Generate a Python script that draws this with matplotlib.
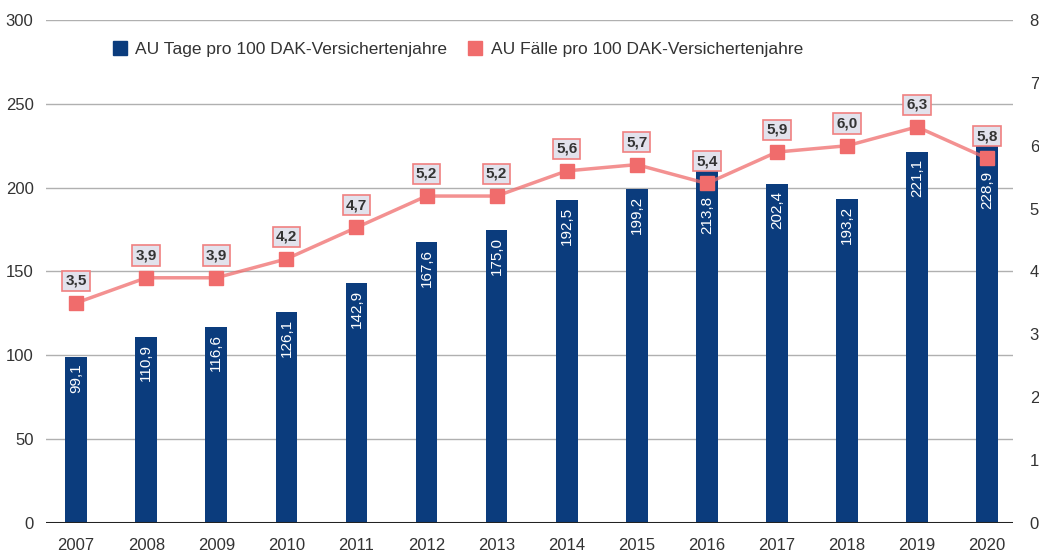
import matplotlib.pyplot as plt

years = ['2007', '2008', '2009', '2010', '2011', '2012', '2013',
         '2014', '2015', '2016', '2017', '2018', '2019', '2020']
au_tage = [99.1, 110.9, 116.6, 126.1, 142.9, 167.6, 175.0,
           192.5, 199.2, 213.8, 202.4, 193.2, 221.1, 228.9]
au_faelle = [3.5, 3.9, 3.9, 4.2, 4.7, 5.2, 5.2,
             5.6, 5.7, 5.4, 5.9, 6.0, 6.3, 5.8]

label_tage = 'AU Tage pro 100 DAK-Versichertenjahre'
label_faelle = 'AU Fälle pro 100 DAK-Versichertenjahre'

plt.rcParams['font.family'] = ['Liberation Sans', 'DejaVu Sans']

BLUE = '#0b3c7d'
RED = '#f06c6c'
TEXT = '#333333'
Y1_MAX, Y2_MAX = 300, 8


def fmt(v):
    return f'{v:.1f}'.replace('.', ',')


fig = plt.figure(figsize=(10.39, 5.56), dpi=100)
ax = fig.add_axes([0.0443, 0.0594, 0.9307, 0.9046])
ax2 = ax.twinx()

x = list(range(len(years)))
ax.bar(x, au_tage, width=0.31, color=BLUE, zorder=2)
for xi, v, f in zip(x, au_tage, au_faelle):
    # marker position in left-axis units; push the label under it if it sits on the bar
    m = f * Y1_MAX / Y2_MAX
    if m < v:
        anchor, off = m, -9
    else:
        anchor, off = v, -5
    ax.annotate(fmt(v), (xi, anchor), xytext=(0, off), textcoords='offset points',
                rotation=90, ha='center', va='top', color='white', fontsize=11)

ax.set_xlim(-0.43, 13.37)
ax.set_ylim(0, Y1_MAX)
ax.set_yticks(range(0, Y1_MAX + 1, 50))
ax.grid(axis='y', color='#b0b0b0', linewidth=1.0, zorder=0)
ax.set_axisbelow(True)
ax.axhline(0, color='#222222', linewidth=2.2, zorder=3)
for s in ax.spines.values():
    s.set_visible(False)
for s in ax2.spines.values():
    s.set_visible(False)

ax.set_xticks(x)
ax.set_xticklabels(years)
ax.tick_params(axis='x', length=0, pad=11, labelsize=12, labelcolor=TEXT)
ax.tick_params(axis='y', length=0, pad=9, labelsize=12, labelcolor=TEXT)

ax2.plot(x, au_faelle, color=RED, alpha=0.75, linewidth=2.5, zorder=3)
ax2.plot(x, au_faelle, linestyle='none', marker='s', markersize=10,
         color=RED, zorder=4)
for xi, v in zip(x, au_faelle):
    ax2.annotate(fmt(v), (xi, v), xytext=(0, 11), textcoords='offset points',
                 ha='center', va='bottom', color=TEXT, fontsize=11,
                 fontweight='bold',
                 bbox=dict(boxstyle='square,pad=0.2', facecolor='#e2e2ec',
                           edgecolor='#f08080', linewidth=1.2))
ax2.set_ylim(0, Y2_MAX)
ax2.set_yticks(range(0, Y2_MAX + 1))
ax2.tick_params(axis='y', length=0, pad=12, labelsize=12, labelcolor=TEXT)

handle_line = plt.Line2D([], [], linestyle='none', marker='s', markersize=10,
                         color=RED)
handle_bar = plt.Line2D([], [], linestyle='none', marker='s', markersize=10,
                        color=BLUE)
ax.legend([handle_bar, handle_line], [label_tage, label_faelle],
          loc='upper left', bbox_to_anchor=(0.06, 0.971), borderaxespad=0,
          ncol=2, frameon=False, fontsize=12.5, handlelength=1.0,
          handletextpad=0.4, columnspacing=1.1, labelcolor=TEXT)

fig.savefig('out.png', dpi=100)
